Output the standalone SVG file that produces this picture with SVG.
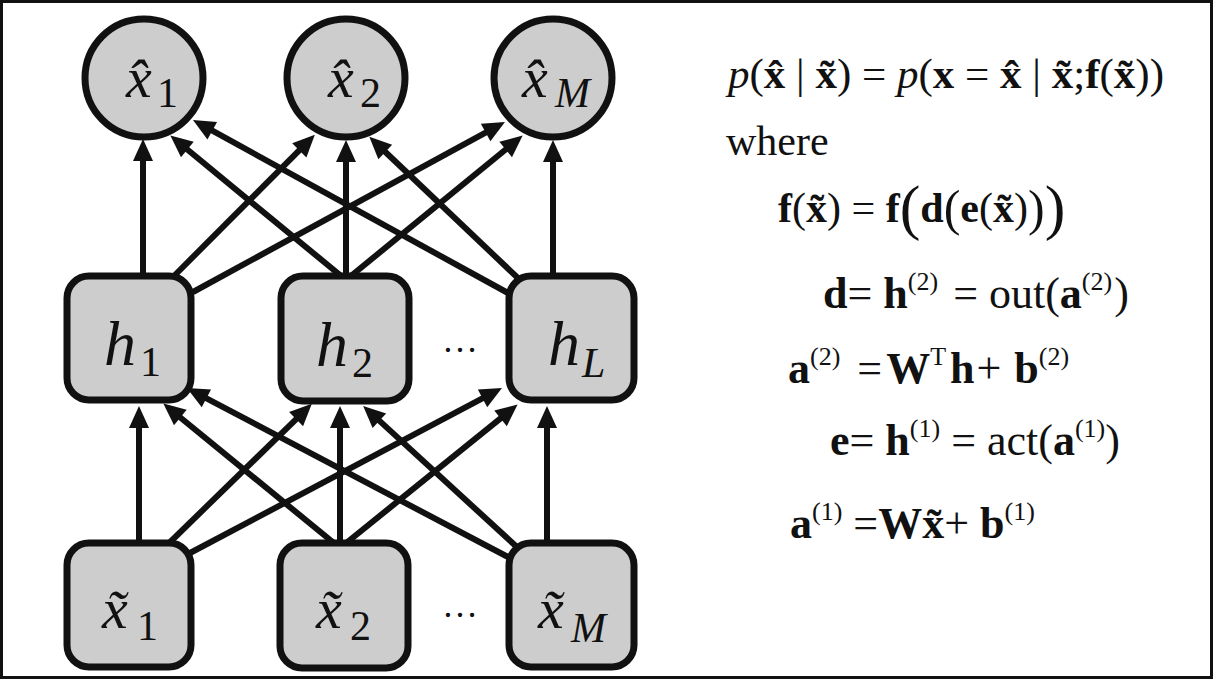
<svg xmlns="http://www.w3.org/2000/svg" width="1214" height="680" viewBox="0 0 1214 680">
<style>
.node{fill:#cdcdcd;stroke:#111;stroke-width:7}
.edge{stroke:#111;stroke-width:6;fill:none;marker-end:url(#ah)}
.lab{font-family:"Liberation Serif","Times New Roman",Times,serif;fill:#111}
.it{font-style:italic}
.b{font-weight:bold}
.eq{font-family:"Liberation Serif","Times New Roman",Times,serif;font-size:44px;fill:#111}
.sup{font-size:26px;font-weight:normal}
</style>
<defs>
<marker id="ah" markerUnits="userSpaceOnUse" viewBox="0 -11 24 22" markerWidth="24" markerHeight="22" refX="2" refY="0" orient="auto" overflow="visible">
<path d="M0,-10 L22,0 L0,10 z" fill="#111"/>
</marker>
</defs>
<rect x="1.5" y="1.5" width="1210" height="676" fill="#fff" stroke="#111" stroke-width="3"/>
<g id="connectors">
<line class="edge" x1="143" y1="280" x2="143" y2="159"/>
<line class="edge" x1="170" y1="280" x2="300.7" y2="148.9"/>
<line class="edge" x1="193" y1="292" x2="487.4" y2="131.6"/>
<line class="edge" x1="346" y1="280" x2="185.8" y2="148.3"/>
<line class="edge" x1="346" y1="280" x2="346" y2="160"/>
<line class="edge" x1="346" y1="280" x2="507.2" y2="148.2"/>
<line class="edge" x1="520" y1="280" x2="383.8" y2="150.5"/>
<line class="edge" x1="508" y1="293" x2="210.5" y2="129.7"/>
<line class="edge" x1="553" y1="280" x2="553" y2="160"/>
<line class="edge" x1="139" y1="548" x2="139" y2="426"/>
<line class="edge" x1="163" y1="549" x2="297.5" y2="417.8"/>
<line class="edge" x1="190" y1="553" x2="484.3" y2="397.4"/>
<line class="edge" x1="340" y1="548" x2="178.8" y2="416.2"/>
<line class="edge" x1="340" y1="548" x2="340" y2="426"/>
<line class="edge" x1="340" y1="548" x2="502.1" y2="417.1"/>
<line class="edge" x1="518" y1="548" x2="377.9" y2="419.4"/>
<line class="edge" x1="508" y1="557" x2="204.6" y2="397.4"/>
<line class="edge" x1="547" y1="548" x2="547" y2="426"/>
</g>
<g id="xhat1">
<circle class="node" cx="144" cy="78" r="59"/>
<text class="lab it" x="126" y="97" font-size="58">x&#x302;</text>
<text class="lab" x="157" y="107" font-size="42">1</text>
</g>
<g id="xhat2">
<circle class="node" cx="346" cy="78" r="59"/>
<text class="lab it" x="328" y="97" font-size="58">x&#x302;</text>
<text class="lab" x="360" y="107" font-size="42">2</text>
</g>
<g id="xhatM">
<circle class="node" cx="553" cy="78" r="59"/>
<text class="lab it" x="522" y="97" font-size="58">x&#x302;</text>
<text class="lab it" x="555" y="107" font-size="42">M</text>
</g>
<g id="h1">
<rect class="node" x="67" y="276" width="124" height="124" rx="22"/>
<text class="lab it" x="104" y="365" font-size="64">h</text>
<text class="lab" x="140" y="376" font-size="42">1</text>
</g>
<g id="h2">
<rect class="node" x="281" y="276" width="128" height="125" rx="22"/>
<text class="lab it" x="316" y="366" font-size="64">h</text>
<text class="lab" x="352" y="377" font-size="42">2</text>
</g>
<g id="hL">
<rect class="node" x="509" y="276" width="125" height="124" rx="22"/>
<text class="lab it" x="548" y="365" font-size="64">h</text>
<text class="lab it" x="582" y="377" font-size="42">L</text>
</g>
<g id="xtilde1">
<rect class="node" x="67" y="543" width="124" height="124" rx="22"/>
<text class="lab it" x="102" y="628" font-size="58">x&#x303;</text>
<text class="lab" x="137" y="640" font-size="42">1</text>
</g>
<g id="xtilde2">
<rect class="node" x="280" y="543" width="128" height="125" rx="22"/>
<text class="lab it" x="316" y="628" font-size="58">x&#x303;</text>
<text class="lab" x="350" y="640" font-size="42">2</text>
</g>
<g id="xtildeM">
<rect class="node" x="509" y="543" width="125" height="124" rx="22"/>
<text class="lab it" x="538" y="628" font-size="58">x&#x303;</text>
<text class="lab it" x="571" y="642" font-size="42">M</text>
</g>
<g id="dots">
<text class="lab" x="460" y="352" font-size="36" text-anchor="middle">…</text>
<text class="lab" x="460" y="617" font-size="36" text-anchor="middle">…</text>
</g>
<g id="equations">
<text class="eq" x="728" y="88" style="font-size:43px"><tspan class="it">p</tspan>(<tspan class="b">x&#x302;</tspan> | <tspan class="b">x&#x303;</tspan>) = <tspan class="it">p</tspan>(<tspan class="b">x</tspan> = <tspan class="b">x&#x302;</tspan> | <tspan class="b">x&#x303;</tspan>;<tspan class="b">f</tspan>(<tspan class="b">x&#x303;</tspan>))</text>
<text class="eq" x="726" y="155" style="font-size:42px">where</text>
<text class="eq" x="778" y="222" style="font-size:42px"><tspan class="b">f</tspan>(<tspan class="b">x&#x303;</tspan>) = <tspan class="b">f</tspan><tspan font-size="62" dy="6">(</tspan><tspan class="b" dy="-6">d</tspan><tspan font-size="50" dy="3">(</tspan><tspan class="b" dy="-3">e</tspan>(<tspan class="b">x&#x303;</tspan>)<tspan font-size="50" dy="3">)</tspan><tspan font-size="62" dy="3">)</tspan></text>
<text class="eq" x="823" y="308"><tspan class="b">d</tspan>= <tspan class="b">h</tspan><tspan class="sup" dy="-18">(2)</tspan><tspan dy="18" dx="4"> = out(</tspan><tspan class="b">a</tspan><tspan class="sup" dy="-18">(2)</tspan><tspan dy="18" dx="2">)</tspan></text>
<text class="eq" x="788" y="383"><tspan class="b">a</tspan><tspan class="sup" dy="-18">(2)</tspan><tspan dy="18" dx="6"> =</tspan><tspan class="b" dx="4">W</tspan><tspan class="sup" dy="-18">T</tspan><tspan class="b" dy="18" dx="4">h</tspan><tspan dx="2">+ </tspan><tspan class="b" dx="2">b</tspan><tspan class="sup" dy="-18">(2)</tspan></text>
<text class="eq" x="830" y="455"><tspan class="b">e</tspan>= <tspan class="b">h</tspan><tspan class="sup" dy="-18">(1)</tspan><tspan dy="18"> = act(</tspan><tspan class="b">a</tspan><tspan class="sup" dy="-18">(1)</tspan><tspan dy="18">)</tspan></text>
<text class="eq" x="790" y="538"><tspan class="b">a</tspan><tspan class="sup" dy="-18">(1)</tspan><tspan dy="18"> =</tspan><tspan class="b">Wx&#x303;</tspan>+ <tspan class="b">b</tspan><tspan class="sup" dy="-18">(1)</tspan></text>
</g>
</svg>
